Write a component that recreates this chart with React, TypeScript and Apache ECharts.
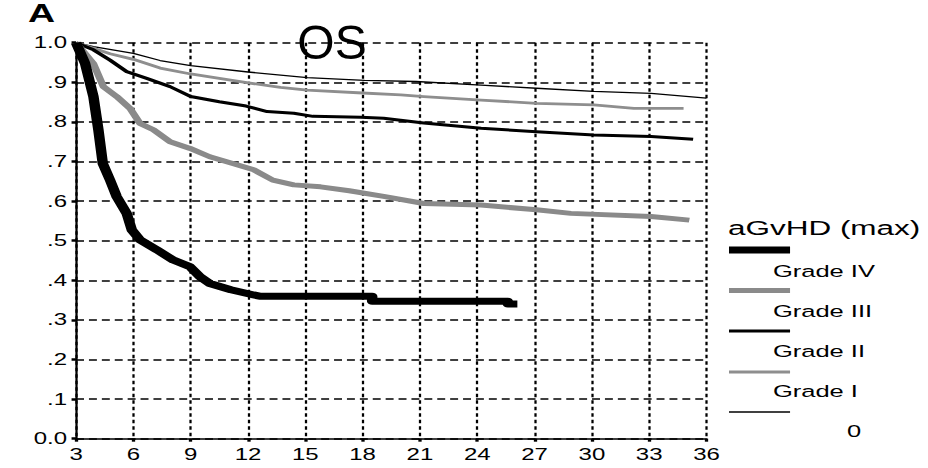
import React, { useEffect, useRef } from "react";
import * as echarts from "echarts";

// ---- data (months, survival probability) ----
const grade4: [number, number][] = [
  [3, 1.0], [3.47, 0.948], [3.91, 0.864], [4.17, 0.78], [4.4, 0.695], [4.78, 0.653],
  [5.13, 0.611], [5.65, 0.569], [5.92, 0.527], [6.35, 0.502], [7.23, 0.477], [8.09, 0.451],
  [8.97, 0.434], [9.49, 0.409], [10.0, 0.392], [11.1, 0.376], [12.3, 0.363], [12.6, 0.36],
  [18.5, 0.36], [18.5, 0.347], [25.6, 0.347], [25.6, 0.34], [26.1, 0.34],
];
const grade3: [number, number][] = [
  [3, 1.0], [3.91, 0.947], [4.43, 0.889], [5.13, 0.864], [5.83, 0.834], [6.35, 0.796],
  [7.05, 0.78], [7.92, 0.75], [8.97, 0.733], [10.0, 0.712], [11.2, 0.695], [12.3, 0.679],
  [13.3, 0.653], [14.4, 0.641], [15.8, 0.636], [17.3, 0.626], [19.1, 0.612], [21.2, 0.594],
  [24.2, 0.59], [27.1, 0.578], [28.9, 0.569], [33.1, 0.561], [35.1, 0.552],
];
const grade2: [number, number][] = [
  [3, 1.0], [3.91, 0.982], [4.78, 0.956], [5.65, 0.927], [6.7, 0.91], [7.92, 0.889],
  [9.0, 0.864], [10.5, 0.851], [11.9, 0.84], [13.0, 0.826], [14.4, 0.822], [15.4, 0.814],
  [17.9, 0.812], [19.1, 0.809], [21.2, 0.797], [24.2, 0.784], [27.1, 0.775], [30.1, 0.767],
  [33.1, 0.763], [35.3, 0.756],
];
const grade1: [number, number][] = [
  [3, 1.0], [3.91, 0.986], [4.78, 0.972], [6.0, 0.958], [7.4, 0.936], [9.0, 0.921],
  [10.5, 0.91], [12.1, 0.898], [13.7, 0.887], [15.1, 0.88], [18.0, 0.873], [20.0, 0.868],
  [21.2, 0.864], [24.2, 0.855], [27.1, 0.847], [30.1, 0.843], [32.2, 0.834], [34.8, 0.834],
];
const grade0: [number, number][] = [
  [3, 1.0], [3.91, 0.99], [6.0, 0.973], [7.4, 0.955], [9.0, 0.942], [12.0, 0.926],
  [15.1, 0.912], [18.1, 0.905], [20.8, 0.902], [24.2, 0.893], [27.1, 0.885], [30.1, 0.877],
  [33.1, 0.872], [36.0, 0.86],
];

const seriesNames = ["Grade IV", "Grade III", "Grade II", "Grade I", "0"];
const seriesData = [grade4, grade3, grade2, grade1, grade0];
const seriesColors = ["#000000", "#8a8a8a", "#000000", "#8e8e8e", "#000000"];
const seriesWidths = [7, 5, 3, 2.8, 1.3];

const xTicks = [3, 6, 9, 12, 15, 18, 21, 24, 27, 30, 33, 36];
const yTickLabels = ["0.0", ".1", ".2", ".3", ".4", ".5", ".6", ".7", ".8", ".9", "1.0"];

const chartTitle = "OS";
const panelLabel = "A";
const legendTitle = "aGvHD (max)";

// horizontal stretch of the original figure
const SX = 1.5;
const W = 928;
const H = 468;
const FONT = "Liberation Sans, Arial, Helvetica, sans-serif";

export default function App() {
  const ref = useRef<HTMLDivElement>(null);

  useEffect(() => {
    if (!ref.current) return;
    const chart = echarts.init(ref.current, undefined, { renderer: "svg" });

    const legendX = 486;
    const legendW = 40.7;
    const swatchY = [250, 290.5, 331, 372, 412];
    const labelY = [271, 311, 351.5, 391.5, 431];
    const labelX = [515.3, 515.3, 515.3, 515.3, 564.7];

    const graphic: any[] = [
      {
        type: "text",
        x: 18.7,
        y: 1,
        style: { text: panelLabel, fontSize: 25, fontWeight: "bold", fontFamily: FONT, fill: "#000", verticalAlign: "top", align: "left" },
      },
      {
        type: "text",
        x: 332 / SX,
        y: 42.5,
        scaleX: 1 / SX,
        style: { text: chartTitle, fontSize: 48, fontFamily: FONT, fill: "#000", align: "center", verticalAlign: "middle" },
        z: 10,
      },
      {
        type: "text",
        x: 485.3,
        y: 228,
        style: { text: legendTitle, fontSize: 21, fontFamily: FONT, fill: "#000", align: "left", verticalAlign: "middle" },
      },
    ];
    seriesNames.forEach((name, i) => {
      graphic.push({
        type: "line",
        shape: { x1: legendX, y1: swatchY[i], x2: legendX + legendW, y2: swatchY[i] },
        style: { stroke: seriesColors[i], lineWidth: seriesWidths[i] },
      });
      graphic.push({
        type: "text",
        x: labelX[i],
        y: labelY[i],
        style: { text: name, fontSize: 17, fontFamily: FONT, fill: "#000", align: "left", verticalAlign: "middle" },
      });
    });

    chart.setOption({
      animation: false,
      backgroundColor: "#ffffff",
      grid: { left: 50.7, right: 148, top: 42.7, bottom: 29.3, containLabel: false },
      xAxis: {
        type: "value",
        min: xTicks[0],
        max: xTicks[xTicks.length - 1],
        interval: 3,
        axisLine: { show: true, onZero: false, lineStyle: { color: "#000", width: 1.6 } },
        axisTick: { show: true, length: 3, lineStyle: { color: "#000", width: 2.2 } },
        axisLabel: { color: "#000", fontSize: 16, fontFamily: FONT, margin: 8 },
        splitLine: { show: true, lineStyle: { color: "#000", width: 1.5, type: [3.5, 3] } },
      },
      yAxis: {
        type: "value",
        min: 0,
        max: 1,
        interval: 0.1,
        axisLine: { show: true, onZero: false, lineStyle: { color: "#000", width: 1.5 } },
        axisTick: { show: true, length: 3, lineStyle: { color: "#000", width: 2.5 } },
        axisLabel: {
          color: "#000",
          fontSize: 16,
          fontFamily: FONT,
          margin: 6,
          formatter: (v: number) => yTickLabels[Math.round(v * 10)] ?? "",
        },
        splitLine: { show: true, lineStyle: { color: "#000", width: 1.7, type: [5.3, 3.3] } },
      },
      graphic,
      series: seriesNames
        .map((name, i) => ({
          name,
          type: "line",
          data: seriesData[i],
          symbol: "none",
          smooth: false,
          z: 5 - i,
          lineStyle: { color: seriesColors[i], width: seriesWidths[i], cap: "butt", join: "round" },
        }))
        .reverse(),
    });

    return () => chart.dispose();
  }, []);

  return (
    <div style={{ position: "fixed", left: 0, top: 0, width: W, height: H, overflow: "hidden", background: "#fff" }}>
      <div
        ref={ref}
        style={{ width: W / SX, height: H, transform: `scaleX(${SX})`, transformOrigin: "0 0" }}
      />
    </div>
  );
}
